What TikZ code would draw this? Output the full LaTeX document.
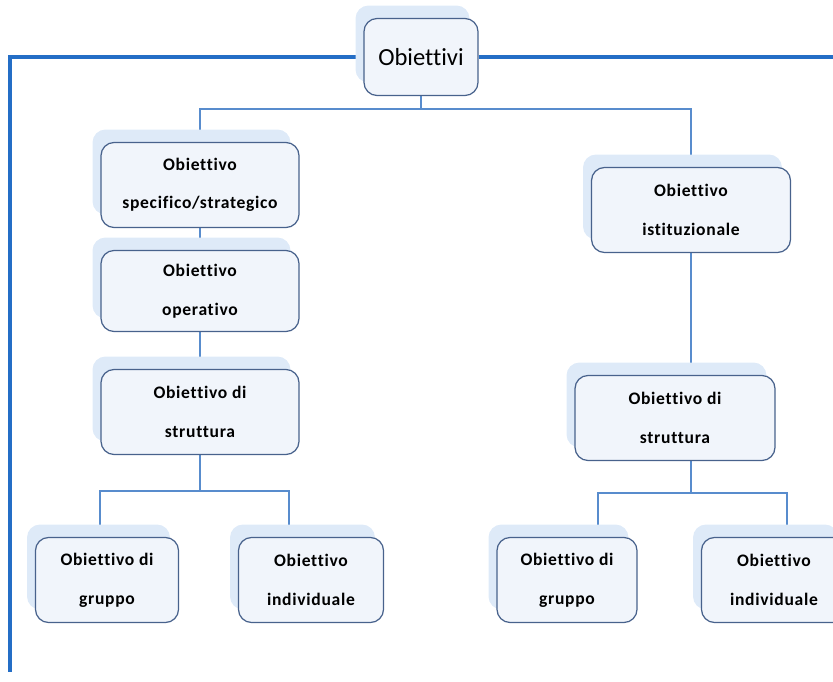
\documentclass[tikz,border=0pt]{standalone}
\usepackage{fontspec}
\setmainfont[Ligatures=NoCommon]{Carlito}
\newfontfamily\boxfont[LetterSpace=4, Ligatures=NoCommon]{Carlito}
\usetikzlibrary{shadows,backgrounds}

\definecolor{boxfill}{RGB}{241,245,251}
\definecolor{boxline}{RGB}{72,98,140}
\definecolor{shade}{RGB}{222,234,248}
\definecolor{linkblue}{RGB}{88,140,205}
\definecolor{frameblue}{RGB}{36,110,198}

\begin{document}
\begin{tikzpicture}[x=0.02cm, y=-0.02cm,
    goal/.style={draw=boxline, line width=0.7pt, fill=boxfill, rounded corners=0.26cm,
        align=center, inner sep=0pt, minimum height=1.7cm,
        drop shadow={shadow xshift=-0.17cm, shadow yshift=0.26cm, fill=shade, opacity=1},
        font=\boxfont\bfseries\fontsize{10}{22}\selectfont},
    link/.style={draw=linkblue, line width=1pt},
    frame/.style={draw=frameblue, line width=2pt}]
    \useasboundingbox (0,0) rectangle (833,682);

    \node[goal, minimum width=2.28cm, minimum height=1.54cm,
        font=\rmfamily\fontsize{14}{17}\selectfont] (obj) at (421,57) {Obiettivi};

    % ramo sinistro
    \node[goal, minimum width=3.96cm] (spec) at (200,185) {Obiettivo\\specifico/strategico};
    \node[goal, minimum width=3.96cm, minimum height=1.62cm] (oper) at (200,291) {Obiettivo\\operativo};
    \node[goal, minimum width=3.96cm] (strL) at (200,412) {Obiettivo di\\struttura};
    \node[goal, minimum width=2.86cm] (grpL) at (107,580) {Obiettivo di\\gruppo};
    \node[goal, minimum width=2.9cm] (indL) at (311,580) {Obiettivo\\individuale};

    % ramo destro
    \node[goal, minimum width=3.98cm] (istit) at (691,210) {Obiettivo\\istituzionale};
    \node[goal, minimum width=4cm] (strR) at (675,418) {Obiettivo di\\struttura};
    \node[goal, minimum width=2.8cm] (grpR) at (567,580) {Obiettivo di\\gruppo};
    \node[goal, minimum width=2.9cm] (indR) at (774,580) {Obiettivo\\individuale};

    \coordinate (fTL) at (10,57);
    \coordinate (fBL) at (10,672);
    \coordinate (fR) at (833,57);

    \begin{scope}[on background layer]
        \draw[frame] (obj.west) -- (fTL) -- (fBL);
        \draw[frame] (obj.east) -- (fR);

        \draw[link] (obj.south) -- ++(0,13) coordinate (fork) -| (spec.north);
        \draw[link] (fork) -| (istit.north);
        \draw[link] (spec) -- (oper) -- (strL);
        \draw[link] (istit.south) -- (istit.south |- strR.north);

        \draw[link] (strL.south) -- ++(0,36) coordinate (forkL) -| ([xshift=-0.14cm]grpL.north);
        \draw[link] (forkL) -| ([xshift=-0.44cm]indL.north);
        \draw[link] (istit.south |- strR.south) -- ++(0,32) coordinate (forkR) -| ([xshift=0.62cm]grpR.north);
        \draw[link] (forkR) -| ([xshift=0.26cm]indR.north);
    \end{scope}
\end{tikzpicture}
\end{document}
